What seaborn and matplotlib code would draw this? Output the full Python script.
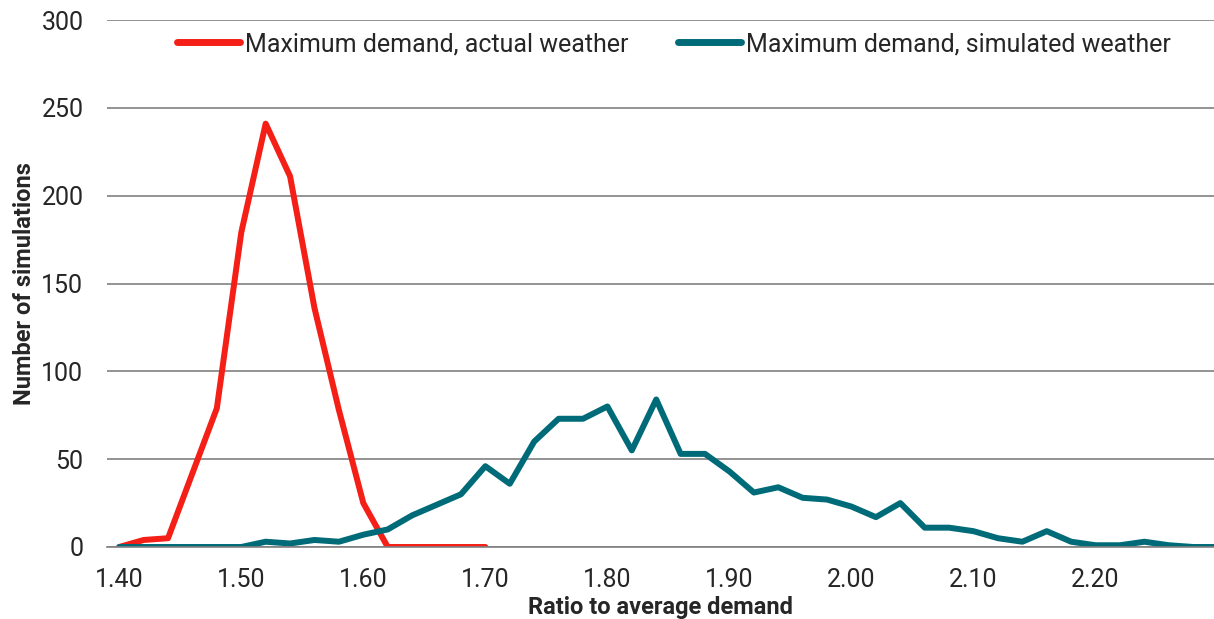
import numpy as np
import pandas as pd
import matplotlib
matplotlib.use("Agg")
import matplotlib.pyplot as plt
import seaborn as sns

# ratio to average demand, step 0.02
ratio_actual = [1.40, 1.42, 1.44, 1.46, 1.48, 1.50, 1.52, 1.54, 1.56, 1.58,
                1.60, 1.62, 1.64, 1.66, 1.68, 1.70]
count_actual = [0, 4, 5, 42, 79, 179, 241, 211, 136, 78,
                25, 0, 0, 0, 0, 0]

ratio_sim = [1.40, 1.42, 1.44, 1.46, 1.48, 1.50, 1.52, 1.54, 1.56, 1.58,
             1.60, 1.62, 1.64, 1.66, 1.68, 1.70, 1.72, 1.74, 1.76, 1.78,
             1.80, 1.82, 1.84, 1.86, 1.88, 1.90, 1.92, 1.94, 1.96, 1.98,
             2.00, 2.02, 2.04, 2.06, 2.08, 2.10, 2.12, 2.14, 2.16, 2.18,
             2.20, 2.22, 2.24, 2.26, 2.28, 2.30]
count_sim = [0, 0, 0, 0, 0, 0, 3, 2, 4, 3,
             7, 10, 18, 24, 30, 46, 36, 60, 73, 73,
             80, 55, 84, 53, 53, 43, 31, 34, 28, 27,
             23, 17, 25, 11, 11, 9, 5, 3, 9, 3,
             1, 1, 3, 1, 0, 0]

xtick_labels = ["1.40", "1.50", "1.60", "1.70", "1.80", "1.90", "2.00", "2.10", "2.20"]

sns.set_style("white")
plt.rcParams['font.family'] = ['Roboto', 'DejaVu Sans']

RED = "#f41f16"
TEAL = "#006b78"
GRID = "#808080"

df_act = pd.DataFrame({"ratio": ratio_actual, "count": count_actual})
df_sim = pd.DataFrame({"ratio": ratio_sim, "count": count_sim})

fig = plt.figure(figsize=(12.14, 6.19), dpi=100)
ax = fig.add_axes([107 / 1214, 72 / 619, 1 - 107 / 1214, 527 / 619])

sns.lineplot(data=df_act, x="ratio", y="count", ax=ax, color=RED, lw=4.3,
             solid_capstyle="round", label="Maximum demand, actual weather")
sns.lineplot(data=df_sim, x="ratio", y="count", ax=ax, color=TEAL, lw=4.3,
             solid_capstyle="round", label="Maximum demand, simulated weather")

ax.set_xlim(1.39, 2.297)
ax.set_ylim(0, 300)
ax.set_yticks(range(0, 301, 50))
ax.yaxis.grid(True, color=GRID, lw=1.2)
ax.set_axisbelow(True)

ax.set_xticks([float(t) for t in xtick_labels])
ax.set_xticklabels(xtick_labels)
ax.set_xticks(np.arange(1.39, 2.30, 0.02), minor=True)
ax.tick_params(axis="x", which="major", length=0, pad=15, labelsize=18)
ax.tick_params(axis="x", which="minor", length=7, width=1.2, color=GRID, direction="out")
ax.tick_params(axis="y", length=0, pad=17, labelsize=18)

for s in ["top", "right", "left"]:
    ax.spines[s].set_visible(False)
ax.spines["bottom"].set_color(GRID)
ax.spines["bottom"].set_linewidth(1.2)

ax.set_xlabel("Ratio to average demand", fontsize=17, fontweight="bold", labelpad=3)
ax.set_ylabel("Number of simulations", fontsize=17, fontweight="bold", labelpad=4)

leg = ax.legend(loc="center", bbox_to_anchor=(0.512, 0.954), ncol=2, frameon=False,
                fontsize=18, handlelength=2.5, handletextpad=0.2, columnspacing=2.0)
for h in leg.get_lines():
    h.set_linewidth(5)
    h.set_solid_capstyle("round")

fig.savefig("out.png", dpi=100)
